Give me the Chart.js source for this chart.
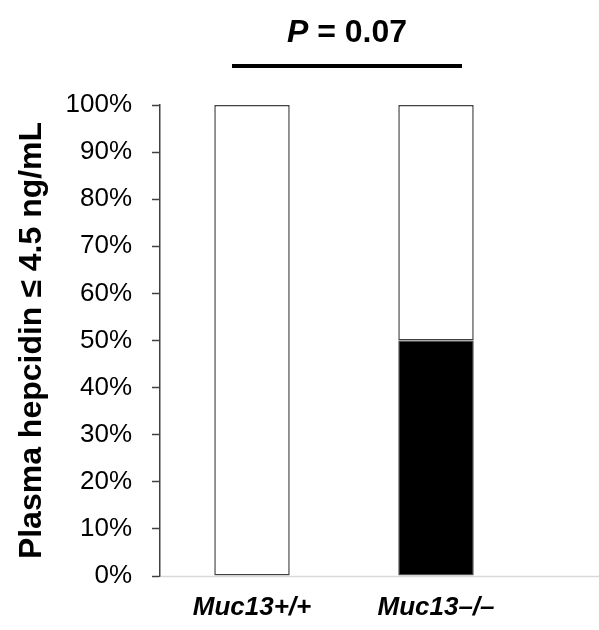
<!DOCTYPE html>
<html>
<head>
<meta charset="utf-8">
<script src="https://cdn.jsdelivr.net/npm/chart.js@4"></script>
<style>
  html, body { margin: 0; padding: 0; background: #fff; }
  #wrap { width: 599px; height: 630px; }
</style>
</head>
<body>
<div id="wrap"><canvas id="grafic"></canvas></div>
<script>
const categories = ['Muc13+/+', 'Muc13\u2013/\u2013'];
const lowHepcidin = [0, 50];
const normalHepcidin = [100, 50];
const yTicks = [0, 10, 20, 30, 40, 50, 60, 70, 80, 90, 100];
const pLabel = '0.07';

// P value annotation and long baseline
const annotation = {
    id: 'annotation',
    afterDraw(chart) {
        const ctx = chart.ctx;
        const area = chart.chartArea;
        ctx.save();
        ctx.strokeStyle = '#d9d9d9';
        ctx.lineWidth = 1.5;
        ctx.beginPath();
        ctx.moveTo(area.left + 1, area.bottom + 0.5);
        ctx.lineTo(chart.width, area.bottom + 0.5);
        ctx.stroke();

        ctx.strokeStyle = '#000';
        ctx.lineWidth = 4;
        ctx.beginPath();
        ctx.moveTo(232, 66);
        ctx.lineTo(462, 66);
        ctx.stroke();

        ctx.fillStyle = '#000';
        ctx.textBaseline = 'middle';
        const fam = '"Liberation Sans", Arial';
        ctx.font = 'italic bold 32px ' + fam;
        const pW = ctx.measureText('P').width;
        ctx.font = 'bold 32px ' + fam;
        const rest = ' = ' + pLabel;
        const rW = ctx.measureText(rest).width;
        const x = 347 - (pW + rW) / 2;
        ctx.textAlign = 'left';
        ctx.font = 'italic bold 32px ' + fam;
        ctx.fillText('P', x, 33);
        ctx.font = 'bold 32px ' + fam;
        ctx.fillText(rest, x + pW, 33);
        ctx.restore();
    }
};

const ctx = document.getElementById('grafic').getContext('2d');
new Chart(ctx, {
    type: 'bar',
    data: {
        labels: categories,
        datasets: [{
            label: 'low',
            data: lowHepcidin,
            backgroundColor: '#000',
            borderColor: '#404040',
            borderWidth: c => (c.raw > 0 ? 1 : 0),
            borderSkipped: false,
            barPercentage: 0.41,
            categoryPercentage: 1
        }, {
            label: 'normal',
            data: normalHepcidin,
            backgroundColor: '#fff',
            borderColor: '#404040',
            borderWidth: 1.5,
            borderSkipped: false,
            barPercentage: 0.41,
            categoryPercentage: 1
        }]
    },
    options: {
        responsive: true,
        maintainAspectRatio: false,
        animation: false,
        layout: { padding: { top: 105, right: 71, left: 0, bottom: 0 } },
        plugins: {
            legend: { display: false },
            tooltip: { enabled: false }
        },
        scales: {
            x: {
                stacked: true,
                grid: { display: false, drawTicks: false },
                border: { display: false },
                ticks: {
                    color: '#000',
                    padding: 16,
                    font: { family: '"Liberation Sans", Arial', size: 26, style: 'italic', weight: 'bold' }
                },
                afterFit(s) { s.height = 54; }
            },
            y: {
                stacked: true,
                min: 0,
                max: 100,
                afterBuildTicks(s) { s.ticks = yTicks.map(v => ({ value: v })); },
                grid: { display: true, drawOnChartArea: false, drawTicks: true, tickLength: 8, tickColor: '#404040', tickWidth: 1.5 },
                border: { display: true, color: '#404040', width: 1.5 },
                ticks: {
                    color: '#000',
                    padding: 20,
                    font: { family: '"Liberation Sans", Arial', size: 26 },
                    callback: v => v + '%'
                },
                title: {
                    display: true,
                    text: 'Plasma hepcidin \u2264 4.5 ng/mL',
                    color: '#000',
                    padding: { top: 13, bottom: 4 },
                    font: { family: '"Liberation Sans", Arial', size: 32, weight: 'bold' }
                },
                afterFit(s) { s.width = 160; }
            }
        }
    },
    plugins: [annotation]
});
</script>
</body>
</html>
